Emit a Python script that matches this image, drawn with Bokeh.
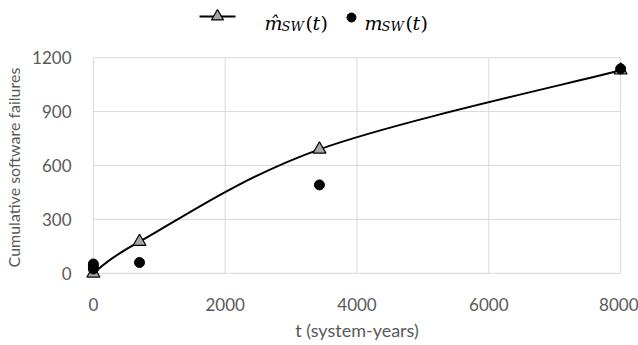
import numpy as np
from bokeh.plotting import figure
from bokeh.models import Range1d, FixedTicker
from bokeh.layouts import column
from bokeh.core.properties import value
from bokeh.embed import file_html
from bokeh.resources import INLINE

# Fitted model values (triangles, joined by a smoothed curve)
t_fit = [0, 700, 3430, 8000]
m_fit = [0, 176, 690, 1130]
# Observed cumulative failures (dots)
t_obs = [0, 0, 0, 700, 3430, 8000]
m_obs = [52, 38, 24, 60, 492, 1138]

x_ticks = [0, 2000, 4000, 6000, 8000]
y_ticks = [0, 300, 600, 900, 1200]

FONT = "Lato"
GREY_TXT = "#595959"
GRID = "#d9d9d9"
TRI_FILL = "#a6a6a6"

BORDER_L, BORDER_R, WIDTH = 83, 8, 638


def smooth_segments(xs, ys):
    """Cubic Bezier pieces through the points (Catmull-Rom style smoothing)."""
    pts = np.column_stack([xs, ys]).astype(float)
    n = len(pts)
    keys = ("x0", "y0", "x1", "y1", "cx0", "cy0", "cx1", "cy1")
    segs = {k: [] for k in keys}
    for i in range(n - 1):
        p_prev = pts[i - 1] if i > 0 else pts[i]
        p0, p1 = pts[i], pts[i + 1]
        p_next = pts[i + 2] if i + 2 < n else pts[i + 1]
        c0 = p0 + (p1 - p_prev) / 6.0
        c1 = p1 - (p_next - p0) / 6.0
        for k, v in zip(keys, (p0[0], p0[1], p1[0], p1[1],
                               c0[0], c0[1], c1[0], c1[1])):
            segs[k].append(v)
    return segs


# ---- main chart ----
p = figure(width=WIDTH, height=305, output_backend="svg", toolbar_location=None,
           x_range=Range1d(-150, 8150), y_range=Range1d(-40, 1240),
           min_border_left=BORDER_L, min_border_right=BORDER_R,
           min_border_top=10, min_border_bottom=65)
p.outline_line_color = None
p.xgrid.visible = False
p.ygrid.visible = False

# grid box limited to the tick span
p.segment(x0=x_ticks, x1=x_ticks, y0=[y_ticks[0]] * len(x_ticks),
          y1=[y_ticks[-1]] * len(x_ticks), line_color=GRID, line_width=1)
p.segment(x0=[x_ticks[0]] * len(y_ticks), x1=[x_ticks[-1]] * len(y_ticks),
          y0=y_ticks, y1=y_ticks, line_color=GRID, line_width=1)

segs = smooth_segments(t_fit, m_fit)
p.bezier(line_color="black", line_width=2, **segs)
p.scatter(t_fit, m_fit, marker="triangle", size=13, fill_color=TRI_FILL,
          line_color="black", line_width=1.2)
p.scatter(t_obs, m_obs, marker="circle", size=10, fill_color="black",
          line_color="black")

for ax in (p.xaxis[0], p.yaxis[0]):
    ax.axis_line_color = None
    ax.major_tick_line_color = None
    ax.minor_tick_line_color = None
    ax.major_label_text_font = FONT
    ax.major_label_text_font_size = "17px"
    ax.major_label_text_color = GREY_TXT
    ax.axis_label_text_font = FONT
    ax.axis_label_text_font_style = "normal"
    ax.axis_label_text_color = GREY_TXT

p.xaxis.axis_label_text_font_size = "18px"
p.yaxis.axis_label_text_font_size = "16px"
p.xaxis.ticker = FixedTicker(ticks=x_ticks)
p.yaxis.ticker = FixedTicker(ticks=y_ticks)
p.xaxis.axis_label = "t (system-years)"
p.yaxis.axis_label = "Cumulative  software failures"
p.xaxis.major_label_standoff = 11
p.yaxis.major_label_standoff = 6
p.xaxis.axis_label_standoff = 5
p.yaxis.axis_label_standoff = 6

# ---- legend strip: x in page pixels, y in pixels from the strip top ----
lg = figure(width=WIDTH, height=40, output_backend="svg",
            toolbar_location=None, x_axis_location=None, y_axis_location=None,
            x_range=Range1d(BORDER_L, WIDTH - BORDER_R), y_range=Range1d(40, 0),
            min_border_left=BORDER_L, min_border_right=BORDER_R,
            min_border_top=0, min_border_bottom=0)
lg.grid.visible = False
lg.outline_line_color = None

lg.line([199, 235], [16, 16], line_color="black", line_width=2)
lg.scatter([217], [16], marker="triangle", size=12, fill_color=TRI_FILL,
           line_color="black", line_width=1.2)
lg.scatter([351], [17], marker="circle", size=9, fill_color="black",
           line_color="black")

serif = value("DejaVu Serif")


def lg_text(x, y, s, size, style="italic"):
    lg.text(x=[x], y=[y], text=[s], text_font=serif, text_font_size=size,
            text_font_style=style, text_baseline="alphabetic",
            text_align="left", text_color="black")


lg_text(264, 22, "m\u0302", "19px")
lg_text(281, 26, "SW", "13px")
lg_text(305, 22, "(", "19px", "normal")
lg_text(312, 22, "t", "19px")
lg_text(320, 22, ")", "19px", "normal")

lg_text(364, 22, "m", "19px")
lg_text(381, 26, "SW", "13px")
lg_text(405, 22, "(", "19px", "normal")
lg_text(412, 22, "t", "19px")
lg_text(420, 22, ")", "19px", "normal")

layout = column(lg, p, spacing=0)
open("out.html", "w").write(file_html(layout, INLINE))
